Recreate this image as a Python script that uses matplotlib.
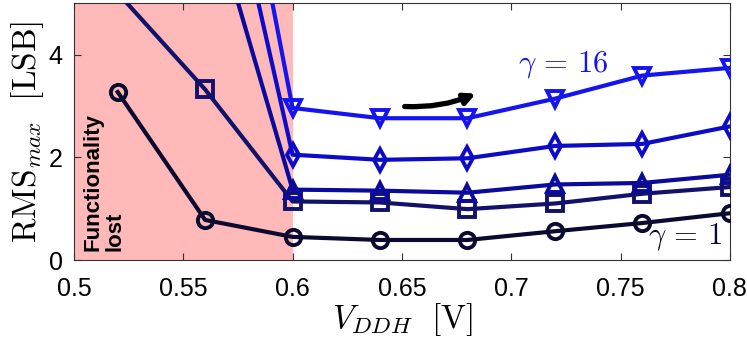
import matplotlib
matplotlib.use('Agg')
from matplotlib import pyplot as plt
from matplotlib.patches import FancyArrowPatch

plt.rcParams['font.family'] = ['Liberation Sans', 'DejaVu Sans']
plt.rcParams['mathtext.fontset'] = 'cm'

# data
vddh = [0.52, 0.56, 0.60, 0.64, 0.68, 0.72, 0.76, 0.80]
g1 = [3.27, 0.78, 0.45, 0.39, 0.39, 0.56, 0.72, 0.91]
g2 = [5.2, 3.32, 1.14, 1.12, 0.99, 1.10, 1.29, 1.42]
g4 = [None, 7.2, 1.37, 1.35, 1.31, 1.47, 1.50, 1.66]
g8 = [None, 9.6, 2.05, 1.95, 1.98, 2.22, 2.26, 2.60]
g16 = [None, 11.8, 2.96, 2.76, 2.76, 3.14, 3.59, 3.74]

series = [g1, g2, g4, g8, g16]
markers = ['o', 's', '^', 'd', 'v']
colors = ['#0a0a30', '#12126a', '#0a0a9c', '#0c0cc8', '#1414f0']

fig = plt.figure(figsize=(7.47, 3.49), dpi=100)
ax = fig.add_axes([0.099, 0.255, 0.878, 0.736])

# region where the circuit stops working
ax.axvspan(0.5, 0.6, color='#ffb9b9', lw=0, zorder=0)

for ys, m, c in zip(series, markers, colors):
    xs = [x for x, y in zip(vddh, ys) if y is not None]
    yy = [y for y in ys if y is not None]
    ax.plot(xs, yy, color=c, lw=3, marker=m, ms=11, mew=2.8,
            mfc='none', zorder=3)

ax.text(0.5037, 0.17, 'Functionality\nlost', rotation=90, fontsize=16,
        fontweight='bold', ha='left', va='bottom', linespacing=1.1)
ax.text(0.703, 3.8, r'$\gamma\, =\, 16$', color='#1414f0', fontsize=22,
        ha='left', va='center')
ax.text(0.7625, 0.45, r'$\gamma\, =\, 1$', color='#0a0a30', fontsize=22,
        ha='left', va='center')

arr = FancyArrowPatch((0.650, 2.99), (0.685, 3.26),
                      connectionstyle='arc3,rad=0.12', arrowstyle='-|>',
                      mutation_scale=16, lw=3.8, color='black', zorder=4)
ax.add_patch(arr)

ax.set_xlim(0.5, 0.8)
ax.set_ylim(0, 5)
ax.set_xticks([0.5, 0.55, 0.6, 0.65, 0.7, 0.75, 0.8])
ax.set_xticklabels(['0.5', '0.55', '0.6', '0.65', '0.7', '0.75', '0.8'])
ax.set_yticks([0, 2, 4])
ax.tick_params(direction='in', top=True, right=True, labelsize=18,
               length=5, color='#333333')
ax.tick_params(axis='x', pad=12)
ax.tick_params(axis='y', pad=8)
for s in ax.spines.values():
    s.set_color('#333333')
    s.set_linewidth(0.8)

ax.set_xlabel(r'$V_{DDH}\ \ [\mathrm{V}]$', fontsize=24, labelpad=0)
ax.set_ylabel(r'$\mathrm{RMS}_{max}\ \ [\mathrm{LSB}]$', fontsize=24,
              labelpad=2)

plt.savefig('out.png', dpi=100)
